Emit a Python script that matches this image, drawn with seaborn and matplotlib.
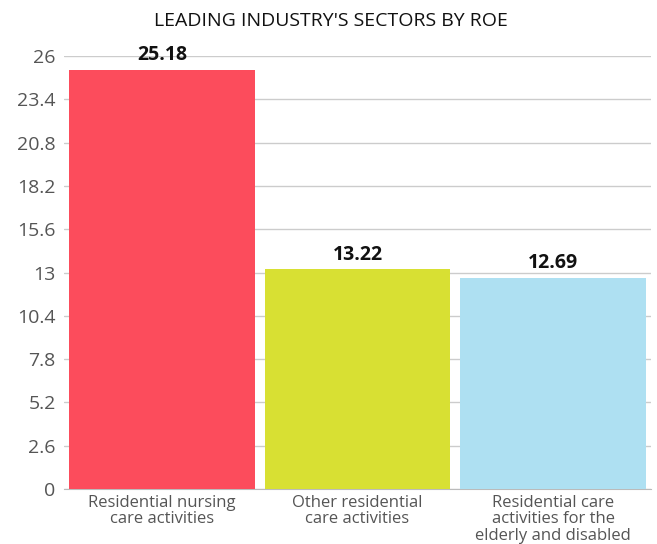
import matplotlib
matplotlib.use("Agg")
import matplotlib.pyplot as plt
import seaborn as sns
import pandas as pd
import numpy as np

categories = ["Residential nursing\ncare activities",
              "Other residential\ncare activities",
              "Residential care\nactivities for the\nelderly and disabled"]
values = [25.18, 13.22, 12.69]
colors = ["#fc4c5c", "#d8e033", "#aee0f2"]
yticks = [0, 2.6, 5.2, 7.8, 10.4, 13, 15.6, 18.2, 20.8, 23.4, 26]
ytick_labels = ["0", "2.6", "5.2", "7.8", "10.4", "13", "15.6", "18.2", "20.8", "23.4", "26"]
title = "LEADING INDUSTRY'S SECTORS BY ROE"

sns.set_style("white")
plt.rcParams['font.family'] = ['Open Sans', 'DejaVu Sans']

df = pd.DataFrame({"cat": categories, "val": values})

fig = plt.figure(figsize=(6.57, 5.44), dpi=100)
ax = fig.add_axes([64/657, 55/544, 587/657, 433/544])
sns.barplot(data=df, x="cat", y="val", hue="cat", palette=colors, width=0.95,
            saturation=1, legend=False, ax=ax, zorder=3, linewidth=0)

ax.set_ylim(0, 26)
ax.set_xlim(-0.5, 2.5)
ax.set_yticks(yticks)
ax.set_yticklabels(ytick_labels)
ax.yaxis.grid(True, color="#cccccc", linewidth=1, zorder=0)
ax.set_xlabel("")
ax.set_ylabel("")
for s in ["top", "right", "left"]:
    ax.spines[s].set_visible(False)
ax.spines["bottom"].set_color("#bbbbbb")
ax.tick_params(axis="y", length=0, labelsize=14, labelcolor="#555555", pad=6)
ax.tick_params(axis="x", length=4, color="#bbbbbb", labelsize=12, labelcolor="#555555", pad=4)
ax.set_xticks([-0.5, 0.5, 1.5, 2.5], minor=True)
ax.tick_params(axis="x", which="minor", length=4, color="#bbbbbb")
ax.tick_params(axis="x", which="major", length=0)
for lbl in ax.get_xticklabels():
    lbl.set_linespacing(1.05)

for i, v in enumerate(values):
    ax.text(i, v + 0.25, f"{v:.2f}", ha="center", va="bottom", fontsize=14,
            fontweight="bold", color="#111111")

fig.text(0.503, 0.962, title, ha="center", va="center", fontsize=14, color="#111111")

fig.savefig("out.png", dpi=100)
